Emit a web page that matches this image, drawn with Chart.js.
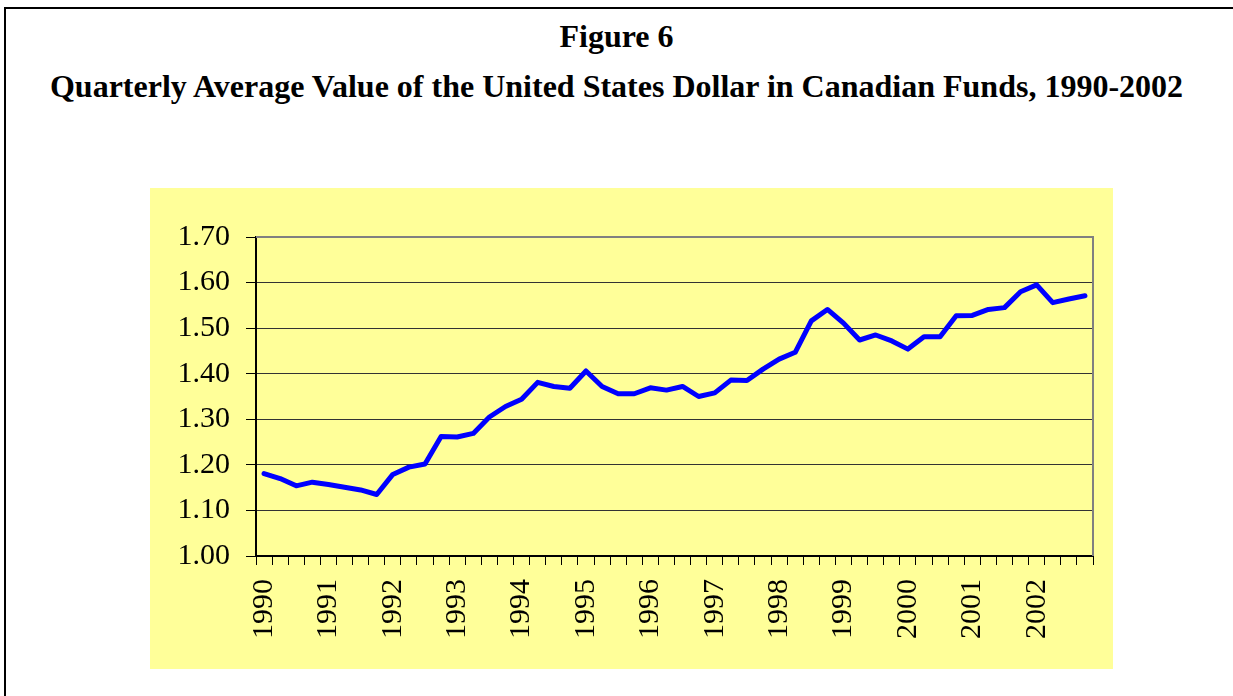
<!DOCTYPE html>
<html>
<head>
<meta charset="utf-8">
<script src="https://cdn.jsdelivr.net/npm/chart.js@4/dist/chart.umd.min.js"></script>
<style>
  html, body { margin: 0; padding: 0; background: #fff; overflow: hidden; }
  body { width: 1233px; height: 696px; position: relative; font-family: "Liberation Serif", "Times New Roman", serif; }
  .frame { position: absolute; left: 4px; top: 7px; width: 1300px; height: 800px; border: 2px solid #000; }
  .title { position: absolute; left: 0; width: 1233px; text-align: center; font-weight: bold; font-size: 32px; line-height: 1; color: #000; }
  #t1 { top: 20px; }
  #t2 { top: 70px; }
  .box { position: absolute; left: 150px; top: 188px; width: 963px; height: 481px; background: #ffff99; }
</style>
</head>
<body>
<div class="frame"></div>
<div class="title" id="t1">Figure 6</div>
<div class="title" id="t2">Quarterly Average Value of the United States Dollar in Canadian Funds, 1990-2002</div>
<div class="box"><canvas id="rateChart" width="963" height="481"></canvas></div>
<script>
// Data: quarterly averages, 1990 Q1 - 2002 Q4
const years = ['1990', '1991', '1992', '1993', '1994', '1995', '1996', '1997', '1998', '1999', '2000', '2001', '2002'];
const quarters = ['Q1', 'Q2', 'Q3', 'Q4'];
const usdInCad = [
  1.181, 1.170, 1.154, 1.162,
  1.157, 1.151, 1.145, 1.135,
  1.179, 1.195, 1.202, 1.262,
  1.261, 1.269, 1.305, 1.328,
  1.344, 1.381, 1.372, 1.368,
  1.406, 1.372, 1.356, 1.356,
  1.369, 1.364, 1.372, 1.350,
  1.358, 1.386, 1.385, 1.410,
  1.432, 1.447, 1.516, 1.541,
  1.511, 1.474, 1.485, 1.472,
  1.454, 1.481, 1.481, 1.527,
  1.528, 1.541, 1.545, 1.580,
  1.595, 1.556, 1.564, 1.571
];
const yTicks = [1.00, 1.10, 1.20, 1.30, 1.40, 1.50, 1.60, 1.70];

const labels = [];
years.forEach(y => quarters.forEach(q => labels.push(y + ' ' + q)));

const serif = "'Liberation Serif', 'Times New Roman', serif";

// gray frame on top and right of the plot area
const plotFrame = {
  id: 'plotFrame',
  beforeDatasetsDraw(chart) {
    const { ctx, chartArea: a } = chart;
    ctx.save();
    ctx.strokeStyle = '#808080';
    ctx.lineWidth = 2;
    ctx.beginPath();
    ctx.moveTo(a.left, a.top);
    ctx.lineTo(a.right, a.top);
    ctx.lineTo(a.right, a.bottom);
    ctx.stroke();
    ctx.restore();
  }
};

const ctx = document.getElementById('rateChart').getContext('2d');
const rateChart = new Chart(ctx, {
  type: 'line',
  data: {
    labels: labels,
    datasets: [{
      label: 'USD in CAD',
      data: usdInCad,
      borderColor: '#0000ff',
      borderWidth: 5,
      borderJoinStyle: 'round',
      borderCapStyle: 'round',
      pointRadius: 0,
      tension: 0,
      fill: false
    }]
  },
  options: {
    responsive: false,
    animation: false,
    layout: { padding: { top: 49, right: 20, left: 0, bottom: 0 } },
    plugins: {
      legend: { display: false },
      tooltip: { enabled: false }
    },
    scales: {
      x: {
        type: 'category',
        offset: true,
        grid: {
          offset: true,
          drawOnChartArea: false,
          tickLength: 9,
          tickColor: '#000',
          tickWidth: 1
        },
        border: { color: '#000', width: 2 },
        ticks: {
          autoSkip: false,
          minRotation: 90,
          maxRotation: 90,
          padding: 14,
          color: '#000',
          font: { family: serif, size: 30 },
          callback: (v, i) => labels[i].endsWith('Q1') ? labels[i].slice(0, 4) : ''
        },
        afterFit: (scale) => {
          scale.height = 113;
          scale.paddingLeft = 0;
          scale.paddingRight = 0;
        }
      },
      y: {
        min: yTicks[0],
        max: yTicks[yTicks.length - 1],
        afterBuildTicks: (scale) => { scale.ticks = yTicks.map(v => ({ value: v })); },
        grid: {
          color: '#333',
          lineWidth: 1,
          tickLength: 10,
          tickColor: '#000'
        },
        border: { color: '#000', width: 2 },
        ticks: {
          padding: 16,
          color: '#000',
          font: { family: serif, size: 30 },
          callback: (v) => Number(v).toFixed(2)
        },
        afterFit: (scale) => {
          scale.width = 106;
          scale.paddingTop = 0;
          scale.paddingBottom = 0;
        }
      }
    }
  },
  plugins: [plotFrame]
});
</script>
</body>
</html>
